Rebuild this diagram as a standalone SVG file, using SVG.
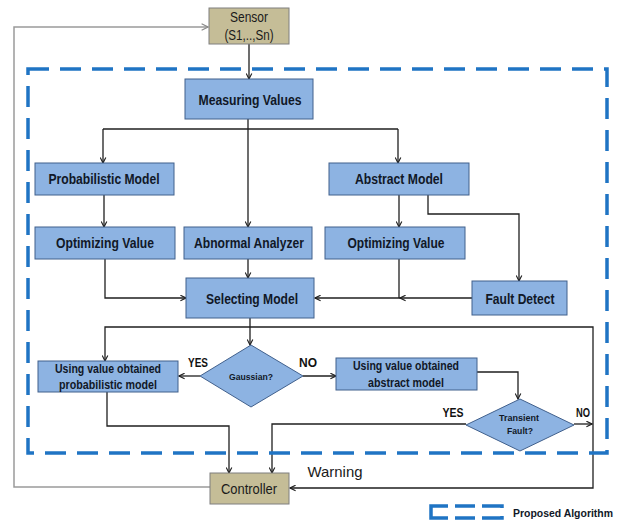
<svg xmlns="http://www.w3.org/2000/svg" width="623" height="523" viewBox="0 0 623 523">
<style>
.box{fill:#8db3e2;stroke:#41608c;stroke-width:1}
.tan{fill:#c5bd97;stroke:#7f7f7f;stroke-width:1}
.t{font-family:"Liberation Sans",Arial,sans-serif;font-weight:bold;font-size:14px;fill:#111827;text-anchor:middle}
.s{font-size:12px}
.xs{font-size:9.5px}
.n{font-weight:normal;fill:#1a1a1a}
.lbl{font-family:"Liberation Sans",Arial,sans-serif;font-weight:bold;font-size:13px;fill:#111;text-anchor:middle}
.c{fill:none;stroke:#1f1f1f;stroke-width:1.3}
.g{fill:none;stroke:#9a9a9a;stroke-width:1.5}
.dash{fill:none;stroke:#1f74c4;stroke-width:3.5;stroke-dasharray:21 11}
.leg{fill:none;stroke:#1f74c4;stroke-width:3.5}
</style>
<defs>
<marker id="ah" viewBox="0 0 10 10" refX="9" refY="5" markerWidth="7" markerHeight="7" markerUnits="userSpaceOnUse" orient="auto">
<path d="M1,1 L9,5 L1,9" fill="none" stroke="#1f1f1f" stroke-width="1.6"/>
</marker>
<marker id="ahg" viewBox="0 0 10 10" refX="9" refY="5" markerWidth="8" markerHeight="8" markerUnits="userSpaceOnUse" orient="auto">
<path d="M1,1 L9,5 L1,9" fill="none" stroke="#8a8a8a" stroke-width="1.4"/>
</marker>
</defs>
<rect width="623" height="523" fill="#ffffff"/>

<g id="connectors">
<path class="g" d="M210,487 H14 V27 H208" marker-end="url(#ahg)"/>
<path class="c" d="M249,44 V79" marker-end="url(#ah)"/>
<path class="c" d="M103,129 H398"/>
<path class="c" d="M103,129 V163" marker-end="url(#ah)"/>
<path class="c" d="M398,129 V163" marker-end="url(#ah)"/>
<path class="c" d="M248,119 V227" marker-end="url(#ah)"/>
<path class="c" d="M104,195 V227" marker-end="url(#ah)"/>
<path class="c" d="M399,195 V227" marker-end="url(#ah)"/>
<path class="c" d="M428,195 V214 H519 V281" marker-end="url(#ah)"/>
<path class="c" d="M105,259 V298 H186" marker-end="url(#ah)"/>
<path class="c" d="M248,259 V278" marker-end="url(#ah)"/>
<path class="c" d="M399,259 V298"/>
<path class="c" d="M472,298 H400" marker-end="url(#ah)"/>
<path class="c" d="M400,298 H315" marker-end="url(#ah)"/>
<path class="c" d="M250,318 V345" marker-end="url(#ah)"/>
<path class="c" d="M250,327 H105 V361" marker-end="url(#ah)"/>
<path class="c" d="M250,327 H593 V488 H290" marker-end="url(#ah)"/>
<path class="c" d="M200,376 H179" marker-end="url(#ah)"/>
<path class="c" d="M303,376 H336" marker-end="url(#ah)"/>
<path class="c" d="M107,392 V426 H229 V473" marker-end="url(#ah)"/>
<path class="c" d="M477,372 H518 V399" marker-end="url(#ah)"/>
<path class="c" d="M466,424 H272 V473" marker-end="url(#ah)"/>
<path class="c" d="M574,424 H592" marker-end="url(#ah)"/>
</g>

<g id="sensor">
<rect class="tan" x="209" y="8" width="80" height="36"/>
<text class="t n" x="249" y="22" textLength="38" lengthAdjust="spacingAndGlyphs">Sensor</text>
<text class="t n" x="249" y="40" textLength="49" lengthAdjust="spacingAndGlyphs">(S1,..,Sn)</text>
</g>
<g id="measuring">
<rect class="box" x="185" y="79" width="128" height="40"/>
<text class="t" x="250" y="105" textLength="103" lengthAdjust="spacingAndGlyphs">Measuring Values</text>
</g>
<g id="probabilistic">
<rect class="box" x="35" y="163" width="139" height="32"/>
<text class="t" x="104" y="184" textLength="111" lengthAdjust="spacingAndGlyphs">Probabilistic Model</text>
</g>
<g id="abstract">
<rect class="box" x="329" y="163" width="140" height="32"/>
<text class="t" x="399" y="184" textLength="88" lengthAdjust="spacingAndGlyphs">Abstract Model</text>
</g>
<g id="optimizing-left">
<rect class="box" x="35" y="227" width="140" height="32"/>
<text class="t" x="105" y="248" textLength="98" lengthAdjust="spacingAndGlyphs">Optimizing Value</text>
</g>
<g id="abnormal">
<rect class="box" x="184" y="227" width="128" height="32"/>
<text class="t" x="249" y="248" textLength="110" lengthAdjust="spacingAndGlyphs">Abnormal Analyzer</text>
</g>
<g id="optimizing-right">
<rect class="box" x="325" y="227" width="140" height="32"/>
<text class="t" x="396" y="248" textLength="97" lengthAdjust="spacingAndGlyphs">Optimizing Value</text>
</g>
<g id="selecting">
<rect class="box" x="186" y="278" width="128" height="40"/>
<text class="t" x="252" y="304" textLength="92" lengthAdjust="spacingAndGlyphs">Selecting Model</text>
</g>
<g id="fault-detect">
<rect class="box" x="472" y="281" width="95" height="34"/>
<text class="t" x="520" y="304" textLength="69" lengthAdjust="spacingAndGlyphs">Fault Detect</text>
</g>
<g id="gaussian">
<polygon class="box" points="200,376 251,345 303,376 251,407"/>
<text class="t xs" x="251" y="380" textLength="44" lengthAdjust="spacingAndGlyphs">Gaussian?</text>
</g>
<g id="use-probabilistic">
<rect class="box" x="38" y="361" width="140" height="31"/>
<text class="t s" x="108" y="373" textLength="106" lengthAdjust="spacingAndGlyphs">Using value obtained</text>
<text class="t s" x="108" y="389" textLength="98" lengthAdjust="spacingAndGlyphs">probabilistic model</text>
</g>
<g id="use-abstract">
<rect class="box" x="336" y="358" width="141" height="32"/>
<text class="t s" x="406" y="370" textLength="106" lengthAdjust="spacingAndGlyphs">Using value obtained</text>
<text class="t s" x="406" y="387" textLength="76" lengthAdjust="spacingAndGlyphs">abstract model</text>
</g>
<g id="transient">
<polygon class="box" points="466,425 520,399 574,425 520,451"/>
<text class="t xs" x="519" y="421" textLength="40" lengthAdjust="spacingAndGlyphs">Transient</text>
<text class="t xs" x="520" y="434" textLength="26" lengthAdjust="spacingAndGlyphs">Fault?</text>
</g>
<g id="controller">
<rect class="tan" x="210" y="473" width="79" height="31"/>
<text class="t n" x="249" y="494" textLength="56" lengthAdjust="spacingAndGlyphs">Controller</text>
</g>

<g id="labels">
<text class="lbl" x="198" y="367" textLength="20" lengthAdjust="spacingAndGlyphs">YES</text>
<text class="lbl" x="308" y="367" textLength="18" lengthAdjust="spacingAndGlyphs">NO</text>
<text class="lbl" x="453" y="417" textLength="21" lengthAdjust="spacingAndGlyphs">YES</text>
<text class="lbl" x="583" y="417" textLength="14" lengthAdjust="spacingAndGlyphs">NO</text>
<text class="t n" x="335" y="477" style="font-size:15px" textLength="55" lengthAdjust="spacingAndGlyphs">Warning</text>
</g>

<g id="proposed-algorithm">
<rect class="dash" x="28" y="69" width="579" height="384"/>
</g>

<g id="legend">
<path class="leg" d="M448,506 H431 V518 H448"/>
<path class="leg" d="M455,506 H475 M455,518 H475"/>
<path class="leg" d="M482,506 H502 V508 M482,518 H502 V516"/>
<text class="t" x="563" y="517" style="font-size:11.5px" textLength="100" lengthAdjust="spacingAndGlyphs">Proposed Algorithm</text>
</g>
</svg>
